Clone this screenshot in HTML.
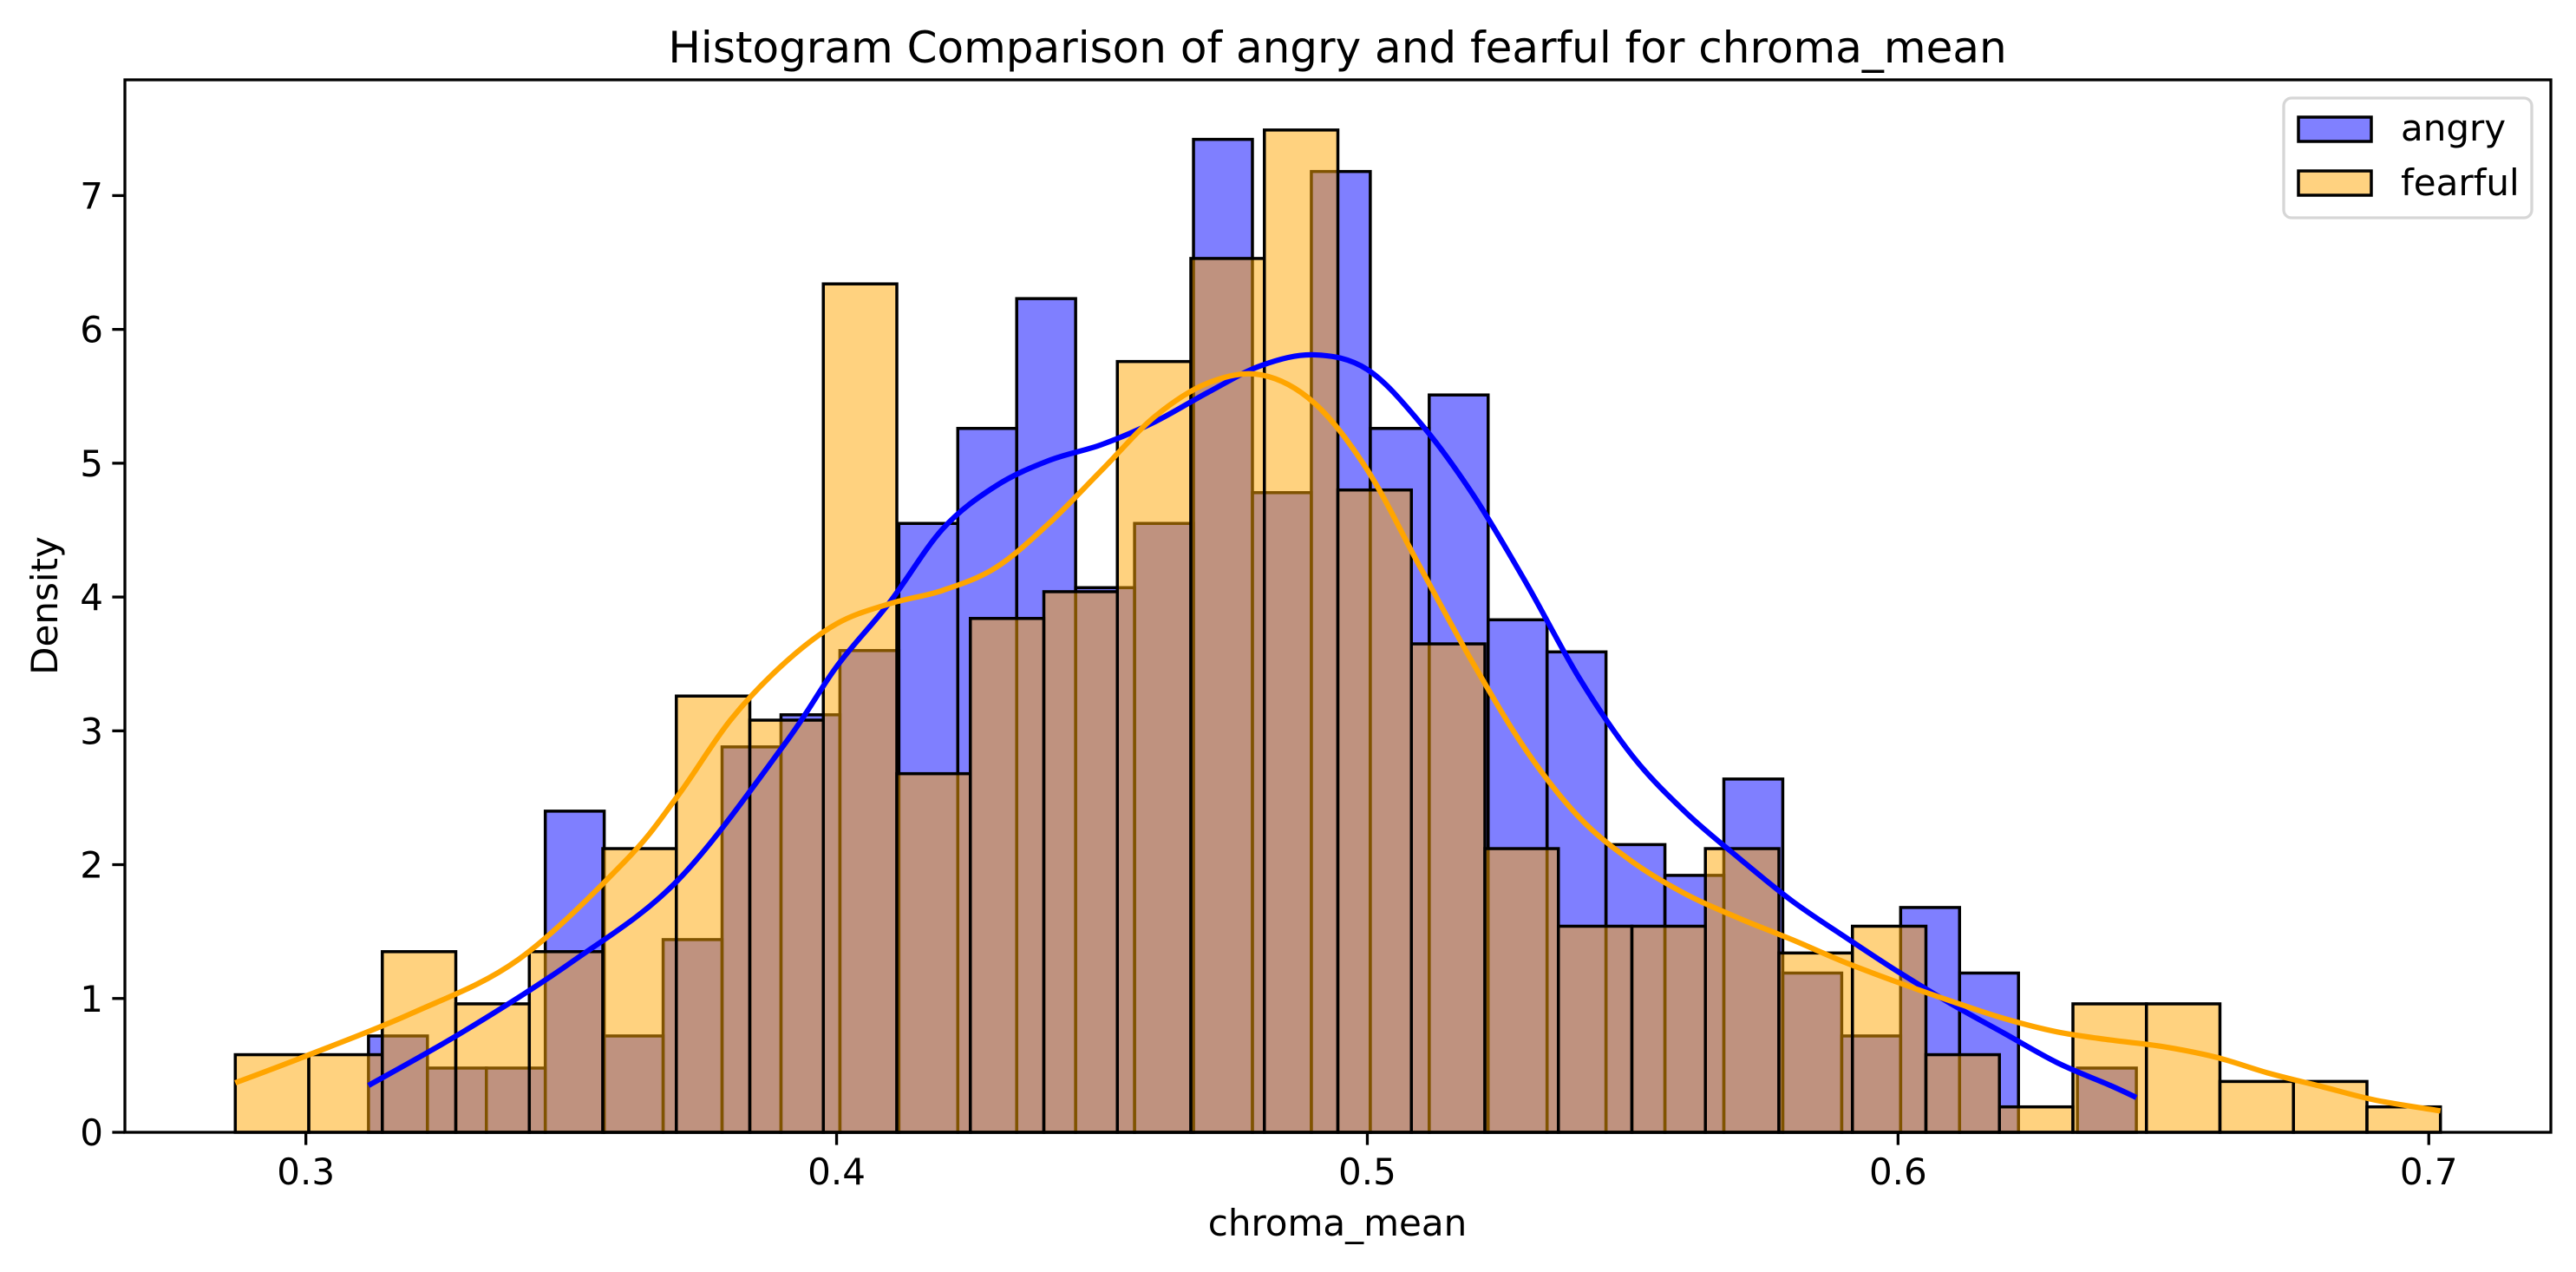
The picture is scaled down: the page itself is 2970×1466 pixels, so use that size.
<!DOCTYPE html>
<html><head><meta charset="utf-8"><style>
html,body{margin:0;padding:0;background:#fff;}
svg{display:block;font-family:"DejaVu Sans","Liberation Sans",sans-serif;}
</style></head><body>
<svg id="chart" width="2970" height="1466" viewBox="0 0 2970 1466" xmlns="http://www.w3.org/2000/svg">
<rect x="0" y="0" width="2970" height="1466" fill="#fff"/>
<g id="bars"></g>
<g id="lines"></g>
<g id="axes"></g>
<text x="1542" y="72" font-size="50" text-anchor="middle">Histogram Comparison of angry and fearful for chroma_mean</text>
<text x="1542" y="1424" font-size="42" text-anchor="middle">chroma_mean</text>
<text x="0" y="0" font-size="42" text-anchor="middle" transform="translate(66,698) rotate(-90)">Density</text>
<g>
<rect x="2633" y="113" width="286" height="138" rx="9" fill="#fff" fill-opacity="0.8" stroke="#d6d6d6" stroke-width="3.3"/>
<rect x="2650" y="135" width="84" height="28" fill="#8080ff" stroke="#000" stroke-width="3.5"/>
<text x="2768" y="162" font-size="42">angry</text>
<rect x="2650" y="197" width="84" height="28" fill="#ffd280" stroke="#000" stroke-width="3.5"/>
<text x="2768" y="225" font-size="42">fearful</text>
</g>
</svg>
<script>
const angryStart = 0.3118, angryEnd = 0.6449;
const fearfulStart = 0.2867, fearfulEnd = 0.7022;
const angryDensity = [0.72,0.48,0.48,2.40,0.72,1.44,2.88,3.12,3.60,4.55,5.26,6.23,4.07,4.55,7.42,4.78,7.18,5.26,5.51,3.83,3.59,2.15,1.92,2.64,1.19,0.72,1.68,1.19,0,0.48];
const fearfulDensity = [0.58,0.58,1.35,0.96,1.35,2.12,3.26,3.08,6.34,2.68,3.84,4.04,5.76,6.53,7.49,4.80,3.65,2.12,1.54,1.54,2.12,1.34,1.54,0.58,0.19,0.96,0.96,0.38,0.38,0.19];
const angryKdeX = [0.3118,0.33,0.35,0.37,0.39,0.40,0.41,0.42,0.43,0.44,0.45,0.46,0.47,0.48,0.49,0.50,0.51,0.52,0.53,0.54,0.55,0.56,0.57,0.58,0.59,0.60,0.61,0.62,0.63,0.64,0.6449];
const angryKdeY = [0.35,0.76,1.27,1.88,2.89,3.48,3.96,4.51,4.83,5.02,5.14,5.31,5.53,5.73,5.81,5.70,5.30,4.76,4.10,3.39,2.81,2.39,2.05,1.73,1.46,1.20,0.96,0.74,0.52,0.35,0.26];
const fearfulKdeX = [0.2867,0.30,0.32,0.34,0.36,0.37,0.38,0.39,0.40,0.41,0.42,0.43,0.44,0.45,0.46,0.47,0.48,0.49,0.50,0.51,0.52,0.53,0.54,0.55,0.56,0.57,0.58,0.59,0.60,0.61,0.62,0.63,0.64,0.65,0.66,0.67,0.68,0.69,0.7022];
const fearfulKdeY = [0.37,0.57,0.89,1.29,2.02,2.51,3.08,3.50,3.80,3.95,4.05,4.22,4.55,4.95,5.35,5.60,5.66,5.45,4.95,4.22,3.50,2.85,2.35,2.02,1.78,1.60,1.44,1.27,1.12,0.98,0.85,0.75,0.69,0.64,0.56,0.44,0.34,0.24,0.16];
const xTicks = [0.3,0.4,0.5,0.6,0.7];
const xTickLabels = ["0.3","0.4","0.5","0.6","0.7"];
const yTicks = [0,1,2,3,4,5,6,7];
const yTickLabels = ["0","1","2","3","4","5","6","7"];

const L=144,R=2941,T=92,B=1305;
const xMin=0.2659,xMax=0.723,yMax=7.865;
const X=v=>L+(v-xMin)/(xMax-xMin)*(R-L);
const Y=v=>B-v/yMax*(B-T);
const NS="http://www.w3.org/2000/svg";
function mk(tag,attrs,parent){const e=document.createElementNS(NS,tag);for(const k in attrs)e.setAttribute(k,attrs[k]);parent.appendChild(e);return e;}
const bars=document.getElementById('bars'),lines=document.getElementById('lines'),axes=document.getElementById('axes');

function drawHist(vals,start,end,fill,name){
  const w=(end-start)/vals.length;
  vals.forEach((v,i)=>{
    const x0=X(start+i*w),x1=X(start+(i+1)*w);
    const r=mk('rect',{x:x0,y:Y(v),width:x1-x0,height:B-Y(v),fill:fill,'fill-opacity':0.5,stroke:'#000','stroke-width':3.5},bars);
    
    
  });
}
drawHist(angryDensity,angryStart,angryEnd,'#0000ff','angry');
drawHist(fearfulDensity,fearfulStart,fearfulEnd,'#ffa500','fearful');

function smoothPath(xs,ys){
  const p=xs.map((x,i)=>[X(x),Y(ys[i])]);
  let d='M'+p[0][0]+','+p[0][1];
  for(let i=0;i<p.length-1;i++){
    const p0=p[i-1]||p[i],p1=p[i],p2=p[i+1],p3=p[i+2]||p[i+1];
    const c1=[p1[0]+(p2[0]-p0[0])/6,p1[1]+(p2[1]-p0[1])/6];
    const c2=[p2[0]-(p3[0]-p1[0])/6,p2[1]-(p3[1]-p1[1])/6];
    d+=' C'+c1+' '+c2+' '+p2;
  }
  return d;
}
const la=mk('path',{d:smoothPath(angryKdeX,angryKdeY),fill:'none',stroke:'#0000ff','stroke-width':6.2},lines);


const lf=mk('path',{d:smoothPath(fearfulKdeX,fearfulKdeY),fill:'none',stroke:'#ffa500','stroke-width':6.2},lines);



const frame=mk('rect',{x:L,y:T,width:R-L,height:B-T,fill:'none',stroke:'#000','stroke-width':3.3},axes);


xTicks.forEach((t,i)=>{
  const tk=mk('line',{x1:X(t),x2:X(t),y1:B,y2:B+14.6,stroke:'#000','stroke-width':3.3},axes);
  
  
  const tx=mk('text',{x:X(t),y:B+60,'font-size':42,'text-anchor':'middle'},axes);
  tx.textContent=xTickLabels[i];
  
  
});
yTicks.forEach((t,i)=>{
  const tk=mk('line',{x1:L-14.6,x2:L,y1:Y(t),y2:Y(t),stroke:'#000','stroke-width':3.3},axes);
  
  
  const tx=mk('text',{x:L-25,y:Y(t)+15,'font-size':42,'text-anchor':'end'},axes);
  tx.textContent=yTickLabels[i];
  
  
});
</script>
</body></html>
